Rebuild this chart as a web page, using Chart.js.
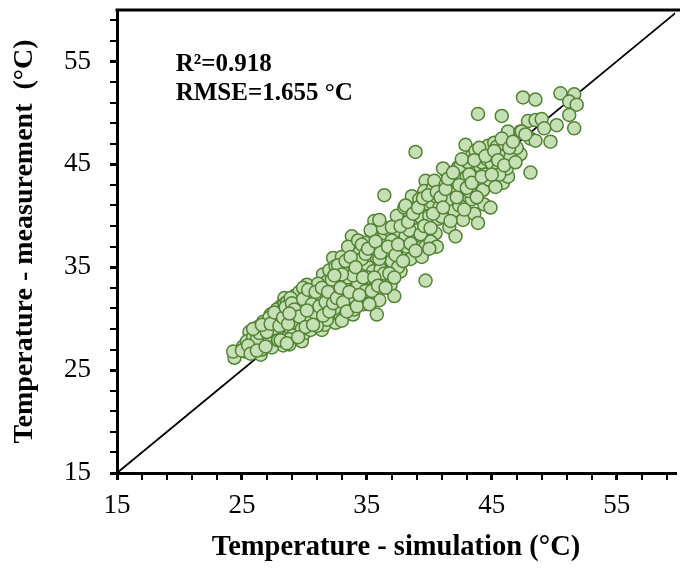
<!DOCTYPE html>
<html><head><meta charset="utf-8">
<script src="https://cdn.jsdelivr.net/npm/chart.js@4.4.1/dist/chart.umd.min.js"></script>
<style>html,body{margin:0;padding:0;background:#fff;overflow:hidden}#wrap{width:683px;height:570px}</style>
</head><body><div id="wrap"><canvas id="c" width="683" height="570"></canvas></div>
<script>
const simulated = [
24.4,24.3,25.1,25.6,26.5,26.1,25.4,25.9,26.0,26.4,26.7,26.8,26.3,25.8,26.6,
27.3,27.7,27.1,27.5,27.9,27.2,27.6,28.0,28.3,28.8,28.4,28.2,28.5,28.7,28.1,27.8,28.6,28.9,27.4,28.4,
29.2,29.4,29.8,29.0,29.5,29.7,29.1,29.3,29.9,29.6,30.2,30.0,30.3,30.6,30.4,30.7,30.2,30.5,30.8,30.1,29.4,29.9,30.4,
31.0,31.4,31.2,31.5,31.7,31.9,31.3,31.6,31.8,32.1,32.3,32.5,32.2,32.4,32.7,32.0,32.6,32.9,32.8,32.1,31.1,32.5,
33.0,33.1,33.4,33.9,33.6,33.3,33.8,33.8,33.5,34.0,34.2,34.4,34.7,34.5,34.8,34.1,34.3,33.7,34.6,34.0,33.2,
35.0,35.0,35.3,35.6,35.8,35.9,35.6,35.2,35.5,35.8,36.0,36.2,36.4,36.6,36.2,36.5,36.7,36.1,36.9,36.4,36.8,35.4,35.1,36.4,
37.3,37.5,37.6,37.2,37.0,37.8,37.4,37.9,38.1,38.3,38.6,38.0,38.4,38.7,38.9,38.2,38.5,37.7,38.8,37.1,38.6,
39.0,39.5,39.7,39.7,39.3,39.6,39.8,39.2,40.0,40.2,40.5,40.5,40.3,40.7,40.1,40.8,40.4,39.4,39.7,40.6,38.9,
41.3,41.4,41.8,41.7,41.2,41.0,41.6,41.9,42.1,42.3,42.5,42.6,42.3,42.1,42.8,42.0,41.5,42.7,42.4,41.1,
42.9,43.0,43.4,43.4,43.8,43.5,43.2,43.9,44.1,44.4,44.4,44.7,44.2,43.7,44.6,43.6,43.9,44.3,44.8,43.1,
45.2,45.0,45.5,45.9,46.3,45.4,45.8,46.3,46.5,45.1,45.7,46.0,45.3,46.2,44.9,45.6,
47.3,47.3,46.5,47.5,48.5,47.9,48.5,48.1,48.5,48.1,47.4,47.0,47.7,
49.0,49.2,49.7,50.2,50.5,51.6,51.2,51.8,51.2,51.6,
26.9,27.0,27.4,27.8,28.2,28.6,28.9,29.3,29.7,30.0,30.5,30.9,31.3,31.6,32.0,32.4,32.8,33.2,33.5,33.9,
34.3,34.6,35.1,35.6,36.0,36.4,37.0,37.5,38.0,38.4,27.2,26.2,25.3,29.8,28.8,31.8,33.0,34.9,
25.0,25.5,25.7,26.2,26.9,26.4,25.9,27.0,26.6,27.3,
27.6,27.9,28.0,28.3,28.5,28.7,28.9,28.1,28.6,29.0,29.2,29.5,29.6,28.8,
29.9,30.1,30.3,30.6,30.8,30.9,31.0,31.2,31.4,31.5,31.7,31.9,30.2,30.7,
32.0,32.2,32.3,32.6,32.7,32.9,33.1,33.3,33.4,33.6,33.7,33.9,34.1,34.2,34.4,34.6,34.7,34.9,33.0,32.4,
35.1,35.3,35.4,35.6,35.7,35.9,36.1,36.3,36.5,36.7,36.8,37.0,37.2,37.3,35.2,36.0,
37.5,37.7,37.9,38.1,38.3,38.5,38.7,38.9,39.1,39.3,39.5,39.6,39.9,40.1,40.3,40.6,40.9,40.0,
41.1,41.3,41.5,41.7,41.9,42.2,42.4,42.6,42.8,43.0,43.2,43.4,43.6,43.8,44.0,44.2,44.5,
45.0,45.2,45.5,45.8,46.0,46.4,46.7,46.9
];
const measured = [
26.2,26.8,27.3,28.7,26.5,27.3,27.8,28.2,28.9,27.9,29.7,28.4,29.2,27.0,27.0,
30.4,28.3,27.5,29.0,29.6,28.8,27.8,28.6,27.4,27.5,32.0,30.6,29.3,30.8,31.2,30.9,28.2,29.0,30.0,31.4,
32.2,28.9,27.8,30.2,31.0,29.6,28.4,31.6,30.5,32.6,33.3,28.6,29.3,30.2,31.1,32.1,32.3,28.9,29.8,31.8,30.4,33.0,30.4,
30.7,28.9,31.8,34.3,32.9,31.2,30.0,29.4,33.6,31.8,35.9,29.6,30.5,32.6,33.9,34.7,31.2,30.3,34.8,33.2,33.4,35.1,
36.0,33.6,32.2,30.4,31.3,34.6,35.4,38.0,37.0,34.4,32.8,36.4,31.4,33.6,35.6,31.6,37.6,33.0,34.8,30.9,31.0,
35.3,37.4,33.2,31.8,30.4,39.5,39.5,36.2,34.6,35.9,31.8,33.9,37.0,36.1,39.0,37.7,35.2,34.8,33.3,38.3,38.6,38.4,32.1,42.0,
38.5,38.2,36.7,32.2,35.6,39.4,40.0,37.5,38.0,36.2,39.6,40.8,41.0,41.4,39.5,37.0,35.8,34.6,37.9,36.9,41.9,
38.6,40.4,43.4,37.0,39.9,42.4,41.2,41.6,40.0,41.3,38.3,41.9,42.7,39.7,37.5,40.8,43.4,36.0,33.7,37.0,46.2,
43.0,44.2,41.1,40.9,42.0,39.9,38.9,42.5,43.4,44.7,44.8,42.7,43.5,38.0,41.5,40.5,41.6,39.6,41.0,44.6,
46.9,43.8,45.8,41.6,43.0,44.6,42.4,49.9,44.8,44.0,41.1,46.8,45.2,46.3,45.5,40.2,39.3,42.5,43.5,45.2,
47.1,45.1,44.5,43.2,43.8,46.7,49.7,48.2,45.8,45.9,46.1,47.0,42.8,44.6,40.8,44.0,
48.2,46.0,45.7,51.5,51.3,49.2,49.3,47.5,47.3,44.2,48.2,46.6,47.9,
49.4,48.5,47.2,48.8,51.9,51.8,51.1,50.8,49.8,48.5,
28.0,29.2,27.2,28.9,29.8,31.6,31.0,29.6,31.4,30.0,31.7,31.0,32.4,30.6,32.2,31.0,32.4,33.2,34.0,32.1,
33.4,35.8,34.0,36.8,35.8,34.4,37.6,35.0,39.0,38.6,30.1,28.0,26.8,29.0,28.0,29.9,29.8,32.7,
26.9,27.4,26.6,26.9,27.3,28.6,29.0,28.7,29.4,29.5,
30.6,27.9,29.3,30.1,31.1,29.5,32.0,27.9,27.6,31.5,30.9,28.2,30.2,30.5,
31.9,29.2,32.8,31.4,30.6,32.6,29.3,31.2,33.0,30.3,31.6,32.6,30.8,29.4,
30.7,33.8,31.5,32.0,35.2,33.0,31.6,35.6,30.7,32.6,36.0,34.2,35.0,31.2,32.3,37.2,34.0,36.3,34.3,34.2,
36.8,38.6,32.7,34.0,37.5,33.2,36.4,38.8,33.0,37.0,34.4,38.9,34.0,36.2,31.4,39.6,
37.2,39.0,35.6,41.0,39.4,37.3,40.2,36.6,40.8,38.2,41.7,39.0,42.0,38.8,40.2,42.3,41.8,36.8,
40.8,42.6,43.6,39.5,44.2,41.8,43.0,45.5,40.6,42.7,44.0,43.2,45.4,41.8,46.6,43.8,45.8,
44.0,46.3,45.4,47.5,44.9,46.6,47.2,45.2
];
// 1:1 reference line
const lineX = [15, 60];
const lineY = [15, 60];
// Axis ticks
const tickValues = [15,17,19,21,23,25,27,29,31,33,35,37,39,41,43,45,47,49,51,53,55,57,59];
const tickLabels = [15,25,35,45,55];
// Annotation
const annotationLines = ['R\u00B2=0.918', 'RMSE=1.655 \u00B0C'];

const FONT = "'Liberation Serif', 'Times New Roman', serif";
const points = simulated.map((x, i) => ({x: x, y: measured[i]}));
const diag = lineX.map((x, i) => ({x: x, y: lineY[i]}));

const annoPlugin = {
  id: 'anno',
  afterDraw(chart) {
    const {ctx, chartArea, scales} = chart;
    ctx.save();
    ctx.strokeStyle = '#000';
    ctx.lineWidth = 3;
    ctx.beginPath();
    ctx.moveTo(chartArea.left - 1.5, chartArea.top);
    ctx.lineTo(chartArea.right + 5, chartArea.top);
    ctx.stroke();
    ctx.fillStyle = '#000';
    ctx.font = "bold 25px " + FONT;
    ctx.textAlign = 'left';
    ctx.textBaseline = 'alphabetic';
    const ax = scales.x.getPixelForValue(19.7);
    ctx.fillText(annotationLines[0], ax, scales.y.getPixelForValue(54.05));
    ctx.fillText(annotationLines[1], ax, scales.y.getPixelForValue(51.3));
    ctx.restore();
  }
};

const tickGrid = {
  display: true,
  drawOnChartArea: false,
  drawTicks: true,
  tickLength: 7,
  color: '#000',
  lineWidth: (c) => (c.tick && tickLabels.includes(c.tick.value)) ? 3 : 2
};

new Chart(document.getElementById('c'), {
  type: 'scatter',
  data: {
    datasets: [
      {
        label: 'points',
        data: points,
        pointRadius: 6.5,
        pointHoverRadius: 6.5,
        pointBorderWidth: 1.5,
        backgroundColor: '#c5e0b4',
        borderColor: '#548235'
      },
      {
        type: 'line',
        label: '1:1',
        data: diag,
        borderColor: '#000',
        borderWidth: 1.8,
        pointRadius: 0,
        fill: false
      }
    ]
  },
  options: {
    responsive: false,
    animation: false,
    devicePixelRatio: 1,
    layout: {padding: {top: 10, right: 0, bottom: 0, left: 0}},
    plugins: {legend: {display: false}, tooltip: {enabled: false}},
    scales: {
      x: {
        type: 'linear', min: 15, max: 59.67,
        afterBuildTicks: (s) => { s.ticks = tickValues.map(v => ({value: v})); },
        afterFit: (s) => { s.height = 97; s.paddingLeft = 0; s.paddingRight = 0; },
        ticks: {
          autoSkip: false, maxRotation: 0, padding: 10, color: '#000',
          font: {family: FONT, size: 27},
          callback: (v) => tickLabels.includes(v) ? String(v) : ''
        },
        grid: tickGrid,
        border: {color: '#000', width: 3},
        title: {display: true, text: 'Temperature - simulation (\u00B0C)', color: '#000',
          font: {family: FONT, size: 28.5, weight: 'bold'}, padding: {top: 0, bottom: 5}}
      },
      y: {
        type: 'linear', min: 15, max: 60,
        afterBuildTicks: (s) => { s.ticks = tickValues.map(v => ({value: v})); },
        afterFit: (s) => { s.width = 117; s.paddingTop = 0; s.paddingBottom = 0; },
        ticks: {
          autoSkip: false, padding: 19, color: '#000',
          font: {family: FONT, size: 27},
          callback: (v) => tickLabels.includes(v) ? String(v) : ''
        },
        grid: tickGrid,
        border: {color: '#000', width: 3},
        title: {display: true, text: 'Temperature - measurement  (\u00B0C)', color: '#000',
          font: {family: FONT, size: 28, weight: 'bold'}, padding: {top: 8, bottom: 0}}
      }
    }
  },
  plugins: [annoPlugin]
});
</script>
</body></html>
